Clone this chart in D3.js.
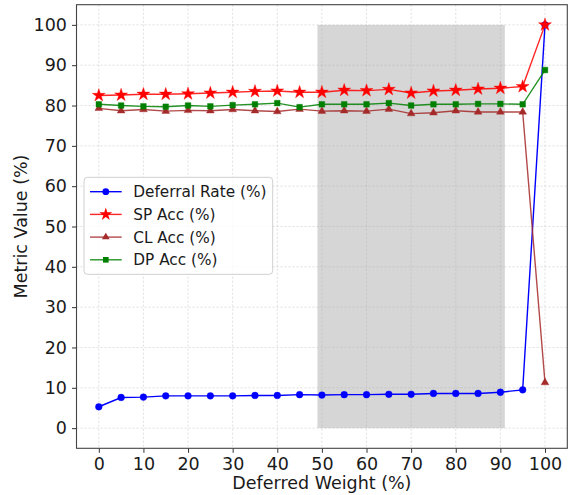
<!DOCTYPE html>
<meta charset="utf-8">
<style>
body { margin: 0; background: #fff; }
text { font-family: "DejaVu Sans", sans-serif; fill: #1a1a1a; }
</style>
<body>
<svg width="574" height="495"></svg>
</body>
<script src="https://d3js.org/d3.v7.min.js"></script>
<script>
// deferred weight (%) on the x axis
const weights = [0, 5, 10, 15, 20, 25, 30, 35, 40, 45, 50, 55, 60, 65, 70, 75, 80, 85, 90, 95, 100];

const deferralRate = [5.3, 7.6, 7.7, 8.0, 8.0, 8.0, 8.0, 8.1, 8.1, 8.3, 8.2, 8.3, 8.3, 8.4, 8.4, 8.6, 8.6, 8.6, 8.9, 9.5, 100];
const spAcc = [82.5, 82.6, 82.8, 82.8, 82.9, 83.1, 83.3, 83.5, 83.6, 83.3, 83.3, 83.8, 83.7, 84.0, 83.1, 83.6, 83.8, 84.1, 84.3, 84.7, 100];
const clAcc = [79.3, 78.7, 79.0, 78.6, 78.8, 78.7, 79.0, 78.7, 78.5, 79.1, 78.6, 78.7, 78.6, 79.1, 78.0, 78.2, 78.7, 78.4, 78.4, 78.4, 11.3];
const dpAcc = [80.3, 80.0, 79.8, 79.7, 80.0, 79.8, 80.1, 80.3, 80.6, 79.6, 80.3, 80.3, 80.3, 80.6, 80.0, 80.3, 80.3, 80.4, 80.4, 80.3, 88.8];

const xTicks = [0, 10, 20, 30, 40, 50, 60, 70, 80, 90, 100];
const yTicks = [0, 10, 20, 30, 40, 50, 60, 70, 80, 90, 100];

const shadeRange = [49, 91];
const shadeY = [0, 100];

const seriesList = [
    {name: "Deferral Rate (%)", values: deferralRate, color: "blue", marker: "circle"},
    {name: "SP Acc (%)", values: spAcc, color: "red", marker: "star"},
    {name: "CL Acc (%)", values: clAcc, color: "brown", marker: "triangle"},
    {name: "DP Acc (%)", values: dpAcc, color: "green", marker: "square"}
];

const plot = {left: 76.5, right: 567.3, top: 4.7, bottom: 448.3};

const svg = d3.select("svg");

const x = d3.scaleLinear().domain([-5, 105]).range([plot.left, plot.right]);
const y = d3.scaleLinear().domain([-5, 105]).range([plot.bottom, plot.top]);

// shaded band
svg.append("rect")
    .attr("x", x(shadeRange[0]))
    .attr("y", y(shadeY[1]))
    .attr("width", x(shadeRange[1]) - x(shadeRange[0]))
    .attr("height", y(shadeY[0]) - y(shadeY[1]))
    .attr("fill", "#d6d6d6");

// grid
const grid = svg.append("g").attr("stroke", "#b0b0b0").attr("stroke-opacity", 0.5)
    .attr("stroke-width", 0.8).attr("stroke-dasharray", "2,2");
grid.selectAll(".gx").data(xTicks).enter().append("line")
    .attr("x1", d => x(d)).attr("x2", d => x(d))
    .attr("y1", plot.top).attr("y2", plot.bottom);
grid.selectAll(".gy").data(yTicks).enter().append("line")
    .attr("y1", d => y(d)).attr("y2", d => y(d))
    .attr("x1", plot.left).attr("x2", plot.right);

// axes
const xAxis = svg.append("g")
    .attr("transform", `translate(0,${plot.bottom})`)
    .call(d3.axisBottom(x).tickValues(xTicks).tickSize(4.5).tickPadding(5));
const yAxis = svg.append("g")
    .attr("transform", `translate(${plot.left},0)`)
    .call(d3.axisLeft(y).tickValues(yTicks).tickSize(4.5).tickPadding(5));
[xAxis, yAxis].forEach(a => {
    a.select(".domain").remove();
    a.selectAll("line").attr("stroke", "#333").attr("stroke-width", 1);
    a.selectAll("text").attr("font-size", 17.5).attr("fill", "#1a1a1a");
});

// frame
svg.append("rect")
    .attr("x", plot.left).attr("y", plot.top)
    .attr("width", plot.right - plot.left).attr("height", plot.bottom - plot.top)
    .attr("fill", "none").attr("stroke", "#444").attr("stroke-width", 1.1);

const symbols = {
    circle: d3.symbol().type(d3.symbolCircle).size(36),
    star: d3.symbol().type(d3.symbolStar).size(52),
    triangle: d3.symbol().type(d3.symbolTriangle).size(26),
    square: d3.symbol().type(d3.symbolSquare).size(32)
};

const line = d3.line().x((d, i) => x(weights[i])).y(d => y(d));

seriesList.forEach(s => {
    const g = svg.append("g");
    const op = s.marker === "circle" ? 1 : 0.85;
    g.append("path")
        .attr("d", line(s.values))
        .attr("fill", "none")
        .attr("stroke", s.color)
        .attr("stroke-width", 1.4)
        .attr("stroke-opacity", op);
    g.selectAll("path.m").data(s.values).enter().append("path")
        .attr("class", "m")
        .attr("d", symbols[s.marker])
        .attr("transform", (d, i) => `translate(${x(weights[i])},${y(d)})`)
        .attr("fill", s.color)
        .attr("stroke", s.color).attr("stroke-width", 0.8).attr("stroke-opacity", 0.5);
});

// legend
const legend = svg.append("g").attr("transform", "translate(84,177.3)");
legend.append("rect")
    .attr("width", 188.7).attr("height", 97).attr("rx", 3.5)
    .attr("fill", "white").attr("fill-opacity", 0.8)
    .attr("stroke", "#d0d0d0").attr("stroke-width", 1);
seriesList.forEach((s, i) => {
    const row = legend.append("g").attr("transform", `translate(0,${14.4 + i * 22.7})`);
    row.append("line").attr("x1", 6).attr("x2", 37.7)
        .attr("stroke", s.color).attr("stroke-width", 1.4)
        .attr("stroke-opacity", s.marker === "circle" ? 1 : 0.85);
    row.append("path").attr("d", symbols[s.marker])
        .attr("transform", "translate(21.8,0)").attr("fill", s.color);
    row.append("text").attr("x", 49.3).attr("dy", "0.36em")
        .attr("font-size", 15.3).text(s.name);
});

// axis labels
svg.append("text")
    .attr("x", (plot.left + plot.right) / 2).attr("y", 489)
    .attr("text-anchor", "middle").attr("font-size", 17.5)
    .text("Deferred Weight (%)");
svg.append("text")
    .attr("transform", `translate(27,${(plot.top + plot.bottom) / 2}) rotate(-90)`)
    .attr("text-anchor", "middle").attr("font-size", 17.5)
    .text("Metric Value (%)");
</script>
